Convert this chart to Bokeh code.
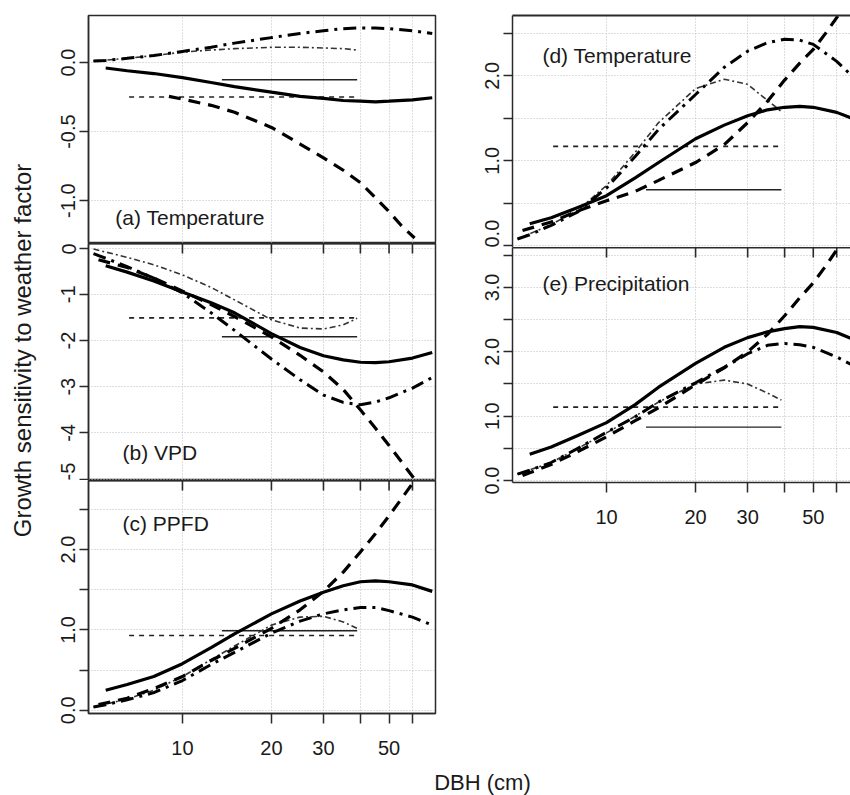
import math
from bokeh.plotting import figure
from bokeh.models import FixedTicker, LogAxis, Label, Range1d
from bokeh.layouts import column, row
from bokeh.embed import file_html
from bokeh.resources import INLINE

# ------------------------------------------------------------------ data
DBH_SOLID = [5.5, 6.5, 8, 10, 12.5, 15, 20, 25, 30, 35, 40, 45, 50, 60, 70]
DBH_DASHED = [5.2, 6.5, 8, 10, 12.5, 15, 20, 25, 30, 35, 40, 45, 50, 55, 61]
DBH_DASHED_A = [9, 10, 12.5, 15, 20, 25, 30, 35, 40, 45, 50, 55, 61]
DBH_DASHDOT = [5.0, 5.5, 6.5, 8, 10, 12.5, 15, 20, 25, 30, 35, 40, 45, 50, 60, 70]
DBH_THIN = [5.0, 6.5, 8, 10, 12.5, 15, 20, 25, 30, 35, 39]
DBH_HLINE_DASHED = [6.6, 39]
DBH_HLINE_SOLID = [13.6, 39]

X_TICKS = [10, 20, 30, 40, 50, 60]
X_TICK_LABELS = ["10", "20", "30", "", "50", ""]

# (a) Temperature
A_SOLID = [-0.04, -0.06, -0.08, -0.11, -0.145, -0.175, -0.215, -0.245, -0.26, -0.275, -0.28, -0.285, -0.28, -0.27, -0.255]
A_DASHED = [-0.245, -0.265, -0.31, -0.36, -0.47, -0.59, -0.69, -0.78, -0.87, -0.98, -1.08, -1.18, -1.27]
A_DASHDOT = [0.01, 0.015, 0.03, 0.05, 0.08, 0.11, 0.14, 0.18, 0.21, 0.23, 0.245, 0.25, 0.25, 0.245, 0.23, 0.21]
A_THIN = [0.01, 0.03, 0.05, 0.075, 0.09, 0.10, 0.11, 0.11, 0.105, 0.10, 0.09]
A_HDASH = -0.25
A_HSOLID = -0.125

# (b) VPD
B_SOLID = [-0.38, -0.52, -0.71, -0.95, -1.18, -1.40, -1.85, -2.15, -2.33, -2.42, -2.47, -2.48, -2.46, -2.38, -2.26]
B_DASHED = [-0.25, -0.42, -0.65, -0.93, -1.22, -1.48, -1.92, -2.32, -2.68, -3.06, -3.50, -3.90, -4.27, -4.62, -5.0]
B_DASHDOT = [-0.12, -0.22, -0.40, -0.65, -0.97, -1.40, -1.78, -2.40, -2.85, -3.18, -3.34, -3.39, -3.33, -3.24, -3.03, -2.80]
B_THIN = [-0.02, -0.20, -0.36, -0.58, -0.85, -1.12, -1.55, -1.73, -1.75, -1.66, -1.52]
B_HDASH = -1.51
B_HSOLID = -1.92

# (c) PPFD
C_SOLID = [0.25, 0.32, 0.42, 0.58, 0.78, 0.95, 1.20, 1.36, 1.47, 1.55, 1.60, 1.61, 1.60, 1.56, 1.48]
C_DASHED = [0.07, 0.15, 0.27, 0.42, 0.62, 0.77, 1.02, 1.25, 1.48, 1.72, 1.97, 2.20, 2.42, 2.63, 2.86]
C_DASHDOT = [0.04, 0.07, 0.13, 0.22, 0.37, 0.57, 0.72, 0.96, 1.11, 1.20, 1.25, 1.28, 1.28, 1.24, 1.16, 1.06]
C_THIN = [0.04, 0.14, 0.25, 0.42, 0.63, 0.80, 1.06, 1.16, 1.17, 1.10, 1.02]
C_HDASH = 0.93
C_HSOLID = 0.99

# (d) Temperature
D_SOLID = [0.26, 0.33, 0.45, 0.59, 0.80, 0.98, 1.26, 1.42, 1.53, 1.60, 1.63, 1.64, 1.63, 1.57, 1.48]
D_DASHED = [0.18, 0.28, 0.41, 0.53, 0.64, 0.77, 0.98, 1.19, 1.45, 1.70, 1.95, 2.15, 2.31, 2.50, 2.72]
D_DASHDOT = [0.08, 0.13, 0.24, 0.40, 0.68, 1.05, 1.37, 1.78, 2.10, 2.29, 2.39, 2.43, 2.42, 2.37, 2.17, 1.95]
D_THIN = [0.08, 0.25, 0.42, 0.71, 1.10, 1.45, 1.85, 1.96, 1.90, 1.71, 1.58]
D_HDASH = 1.17
D_HSOLID = 0.66

# (e) Precipitation
E_SOLID = [0.41, 0.52, 0.70, 0.90, 1.18, 1.45, 1.82, 2.07, 2.22, 2.31, 2.36, 2.39, 2.38, 2.30, 2.17]
E_DASHED = [0.08, 0.25, 0.45, 0.68, 0.93, 1.13, 1.49, 1.75, 2.00, 2.27, 2.56, 2.84, 3.07, 3.33, 3.63]
E_DASHDOT = [0.10, 0.16, 0.28, 0.50, 0.75, 0.99, 1.22, 1.52, 1.76, 1.97, 2.10, 2.13, 2.11, 2.07, 1.92, 1.76]
E_THIN = [0.10, 0.28, 0.50, 0.74, 1.00, 1.22, 1.50, 1.56, 1.50, 1.36, 1.25]
E_HDASH = 1.14
E_HSOLID = 0.83

# ------------------------------------------------------------------ style
FONT = "Liberation Sans"
TEXT = "#1a1a1a"
LINE = "#2a2a2a"
GRID = "#bdbdbd"
X_START = 4.81
X_END_LEFT = 71.8
X_END_RIGHT = 66.8
TICK_PX = 10
TICK_FONT = "20px"

STYLES = {
    "solid": dict(line_width=3.2, line_color="black"),
    "dashed": dict(line_width=3.2, line_color="black", line_dash="12 8"),
    "dashdot": dict(line_width=3.0, line_color="black", line_dash="13 6 3 6"),
    "thin": dict(line_width=1.6, line_color="#333333", line_dash="6 3 2 3"),
    "hdash": dict(line_width=1.6, line_color="#222222", line_dash="5 5"),
    "hsolid": dict(line_width=1.4, line_color="#222222"),
}


def make_panel(name, label_xy, y_rng, y_ticks, y_labels, series, hdash, hsolid,
               x_end, frame_w, frame_h, b_left, b_top, b_bottom, b_right,
               top_border, inner_ticks, bottom_labels, outline):
    p = figure(x_axis_type="log", x_range=Range1d(X_START, x_end),
               y_range=Range1d(*y_rng), frame_width=frame_w, frame_height=frame_h,
               min_border_left=b_left, min_border_top=b_top,
               min_border_bottom=b_bottom, min_border_right=b_right,
               toolbar_location=None, output_backend="svg",
               x_axis_location="below" if bottom_labels else None,
               y_axis_location="left")
    p.background_fill_color = "white"
    p.border_fill_color = "white"
    if outline:
        p.outline_line_color = LINE
        p.outline_line_width = 1.5
    else:
        p.outline_line_color = None

    # grids
    p.xgrid.ticker = FixedTicker(ticks=X_TICKS)
    p.ygrid.ticker = FixedTicker(ticks=y_ticks)
    for g in (p.xgrid, p.ygrid):
        g.grid_line_color = GRID
        g.grid_line_dash = "1 2"
        g.grid_line_width = 1

    # y axis
    ax = p.yaxis[0]
    ax.ticker = FixedTicker(ticks=y_ticks)
    ax.major_label_overrides = {t: l for t, l in zip(y_ticks, y_labels)}
    ax.major_label_orientation = "vertical"
    ax.major_tick_out = 9
    ax.major_tick_in = 0
    ax.minor_tick_out = 0
    ax.minor_tick_in = 0
    ax.major_label_standoff = 4
    ax.major_label_text_font = FONT
    ax.major_label_text_font_size = TICK_FONT
    ax.major_label_text_color = TEXT
    ax.axis_line_color = LINE
    ax.axis_line_width = 1.5
    ax.major_tick_line_color = LINE
    ax.major_tick_line_width = 1.5

    # bottom axis with labels
    if bottom_labels:
        bx = p.xaxis[0]
        bx.ticker = FixedTicker(ticks=X_TICKS)
        bx.major_label_overrides = dict(zip(X_TICKS, X_TICK_LABELS))
        bx.major_tick_out = TICK_PX
        bx.major_tick_in = 0
        bx.minor_tick_out = 0
        bx.minor_tick_in = 0
        bx.major_label_standoff = 17
        bx.major_label_text_font = FONT
        bx.major_label_text_font_size = TICK_FONT
        bx.major_label_text_color = TEXT
        bx.axis_line_color = LINE
        bx.axis_line_width = 1.5
        bx.major_tick_line_color = LINE
        bx.major_tick_line_width = 1.5

    # top border line (axis without labels)
    if top_border:
        tx = LogAxis(ticker=FixedTicker(ticks=X_TICKS),
                     major_tick_in=0, major_tick_out=0,
                     minor_tick_in=0, minor_tick_out=0,
                     major_label_overrides={t: "" for t in X_TICKS},
                     major_label_text_font_size="1px", major_label_text_alpha=0,
                     major_label_standoff=0,
                     axis_line_color=LINE, axis_line_width=2)
        p.add_layout(tx, "above")

    # tick marks of the shared boundary, pointing down into this panel
    if inner_ticks:
        y0, y1 = y_rng
        tick_len = TICK_PX * (y1 - y0) / frame_h
        p.segment(x0=X_TICKS, x1=X_TICKS, y0=[y1] * len(X_TICKS),
                  y1=[y1 - tick_len] * len(X_TICKS), line_color=LINE, line_width=1.6)

    dbh_dashed = DBH_DASHED_A if name == "a" else DBH_DASHED
    p.line(DBH_HLINE_DASHED, [hdash, hdash], **STYLES["hdash"])
    p.line(DBH_HLINE_SOLID, [hsolid, hsolid], **STYLES["hsolid"])
    p.line(DBH_THIN, series["thin"], **STYLES["thin"])
    p.line(DBH_DASHDOT, series["dashdot"], **STYLES["dashdot"])
    p.line(dbh_dashed, series["dashed"], **STYLES["dashed"])
    p.line(DBH_SOLID, series["solid"], **STYLES["solid"])

    p.add_layout(Label(x=label_xy[0], y=label_xy[1], text=label_xy[2],
                       text_font=FONT, text_font_size="21px", text_color=TEXT,
                       text_baseline="middle", text_align="left"))
    return p


HALF_TICKS_C = [0.0, 0.5, 1.0, 1.5, 2.0, 2.5]
HALF_LABELS_C = ["0.0", "", "1.0", "", "2.0", ""]
HALF_TICKS_E = [0.0, 0.5, 1.0, 1.5, 2.0, 2.5, 3.0, 3.5]
HALF_LABELS_E = ["0.0", "", "1.0", "", "2.0", "", "3.0", ""]

pa = make_panel("a", (5.93, -1.12, "(a) Temperature"), (-1.31, 0.34),
                [-1.0, -0.5, 0.0], ["-1.0", "-0.5", "0.0"],
                dict(solid=A_SOLID, dashed=A_DASHED, dashdot=A_DASHDOT, thin=A_THIN),
                A_HDASH, A_HSOLID, X_END_LEFT, 347, 228, 48, 15, 0, 2,
                False, False, False, True)
pb = make_panel("b", (6.27, -4.42, "(b) VPD"), (-5.03, 0.1),
                [-5, -4, -3, -2, -1, 0], ["-5", "-4", "-3", "-2", "-1", "0"],
                dict(solid=B_SOLID, dashed=B_DASHED, dashdot=B_DASHDOT, thin=B_THIN),
                B_HDASH, B_HSOLID, X_END_LEFT, 347, 237, 48, 0, 0, 2,
                True, True, False, True)
pc = make_panel("c", (6.27, 2.32, "(c) PPFD"), (-0.04, 2.86),
                HALF_TICKS_C, HALF_LABELS_C,
                dict(solid=C_SOLID, dashed=C_DASHED, dashdot=C_DASHDOT, thin=C_THIN),
                C_HDASH, C_HSOLID, X_END_LEFT, 347, 233, 48, 0, 57, 2,
                True, True, True, True)
pd_ = make_panel("d", (6.07, 2.24, "(d) Temperature"), (-0.02, 2.71),
                 HALF_TICKS_C, HALF_LABELS_C,
                 dict(solid=D_SOLID, dashed=D_DASHED, dashdot=D_DASHDOT, thin=D_THIN),
                 D_HDASH, D_HSOLID, X_END_RIGHT, 338, 232, 75, 15, 0, 0,
                 True, False, False, False)
pe = make_panel("e", (6.07, 3.06, "(e) Precipitation"), (-0.03, 3.62),
                HALF_TICKS_E, HALF_LABELS_E,
                dict(solid=E_SOLID, dashed=E_DASHED, dashdot=E_DASHDOT, thin=E_THIN),
                E_HDASH, E_HSOLID, X_END_RIGHT, 338, 235, 75, 0, 60, 0,
                True, True, True, False)


def text_strip(w, h, x, y, text, angle, size):
    f = figure(width=w, height=h, x_range=Range1d(0, w), y_range=Range1d(0, h),
               toolbar_location=None, output_backend="svg", min_border=0,
               x_axis_location=None, y_axis_location=None)
    f.outline_line_color = None
    f.xgrid.visible = False
    f.ygrid.visible = False
    f.add_layout(Label(x=x, y=y, text=text, angle=angle, text_font=FONT,
                       text_font_size=size, text_color=TEXT,
                       text_align="center", text_baseline="middle"))
    return f


ylab = text_strip(40, 770, 22, 770 - 350, "Growth sensitivity to weather factor", math.pi / 2, "24px")
xlab = text_strip(850, 25, 482, 13, "DBH (cm)", 0, "22px")

layout = column(row(ylab, column(pa, pb, pc), column(pd_, pe)), xlab)

open("out.html", "w").write(file_html(layout, INLINE))
